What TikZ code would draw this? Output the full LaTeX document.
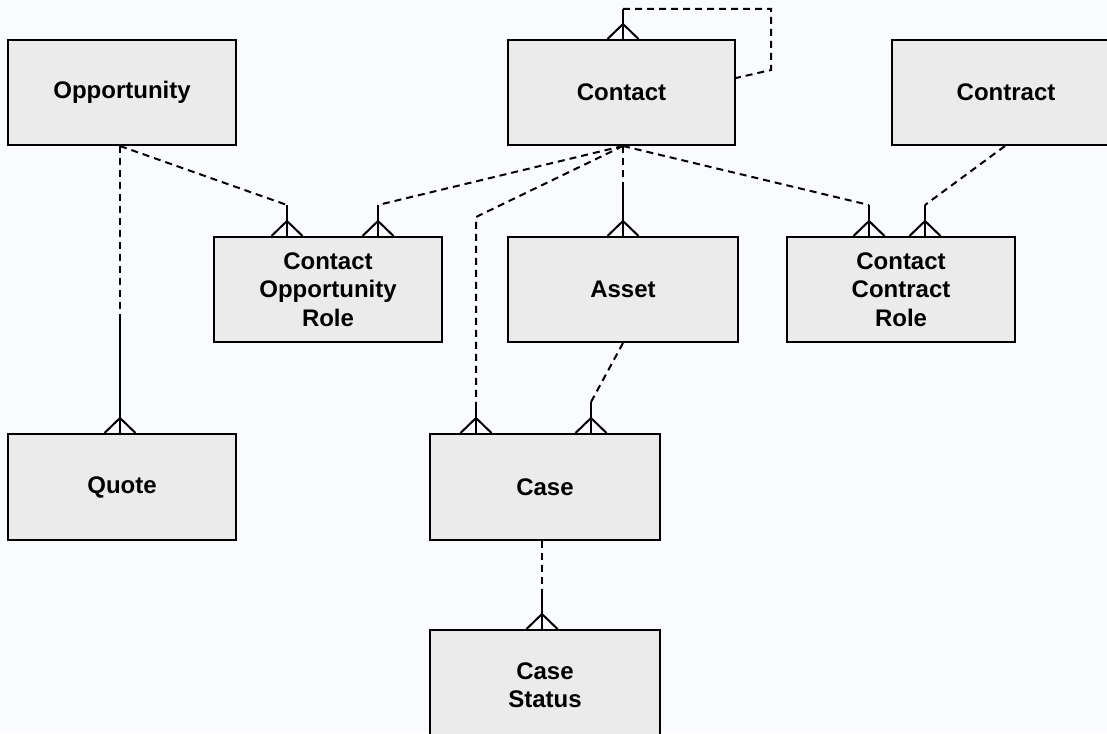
\documentclass[tikz,border=0pt]{standalone}
\usepackage{fontspec}
\setmainfont{Liberation Sans}
\usetikzlibrary{calc}
\definecolor{bgcol}{RGB}{250,251,254}
\definecolor{boxfill}{RGB}{235,235,235}
\tikzset{
  entity/.style={draw=black, line width=2pt, fill=boxfill, minimum width=228pt, minimum height=105pt,
    align=center, font=\fontsize{24}{28.5}\selectfont\bfseries, inner sep=0pt},
  rel/.style={line width=2pt, dash pattern=on 7pt off 5pt},
  stemline/.style={line width=2pt},
  crowfoot/.pic={\draw[line width=2pt] (-15.5,0) -- (0,-15) -- (15.5,0);}
}
\begin{document}
\begin{tikzpicture}[x=1pt,y=-1pt]
\fill[bgcol] (0,0) rectangle (1107,733);
\useasboundingbox (0,0) rectangle (1107,733);

% entities
\node[entity] (opp) at (122,92.5) {Opportunity};
\node[entity, minimum width=227pt] (contact) at (621.5,92.5) {Contact};
\node[entity] (contract) at (1006,92.5) {Contract};
\node[entity] (cor) at (328,289.5) {Contact\\Opportunity\\Role};
\node[entity, minimum width=230pt] (asset) at (623,289.5) {Asset};
\node[entity] (ccr) at (901,289.5) {Contact\\Contract\\Role};
\node[entity, minimum height=106pt] (quote) at (122,487) {Quote};
\node[entity, minimum width=230pt, minimum height=106pt] (case) at (545,487) {Case};
\node[entity, minimum width=230pt, minimum height=110pt] (status) at (545,685) {Case\\Status};

% anchor points on parents
\coordinate (oppB) at ($(opp.south)+(-2,0)$);
\coordinate (conB) at ($(contact.south)+(1.5,0)$);
\coordinate (asB) at (asset.south);
\coordinate (caseB) at ($(case.south)+(-3,0)$);
\coordinate (ctrB) at ($(contract.south)+(-1,0)$);

% Opportunity -> Quote
\coordinate (fq) at ($(quote.north)+(-2,0)$);
\coordinate (sq) at ($(fq)+(0,-116)$);
\draw[rel] (oppB) -- (sq);
\draw[stemline] (sq) -- (fq);
\pic at (fq) {crowfoot};

% Opportunity -> Contact Opportunity Role
\coordinate (fc1) at ($(cor.north)+(-41,0)$);
\coordinate (sc1) at ($(fc1)+(0,-31)$);
\draw[rel] (oppB) -- (sc1);
\draw[stemline] (sc1) -- (fc1);
\pic at (fc1) {crowfoot};

% Contact -> Contact Opportunity Role
\coordinate (fc2) at ($(cor.north)+(50,0)$);
\coordinate (sc2) at ($(fc2)+(0,-31)$);
\draw[rel] (conB) -- (sc2);
\draw[stemline] (sc2) -- (fc2);
\pic at (fc2) {crowfoot};

% Contact -> Case
\coordinate (fk1) at ($(case.north)+(-69,0)$);
\coordinate (sk1) at ($(fk1)+(0,-31)$);
\coordinate (bk1) at ($(fk1)+(0,-216)$);
\draw[rel] (conB) -- (bk1) -- (sk1);
\draw[stemline] (sk1) -- (fk1);
\pic at (fk1) {crowfoot};

% Contact -> Asset
\coordinate (fa) at (asset.north);
\coordinate (sa) at ($(fa)+(0,-47)$);
\draw[rel] (conB) -- (sa);
\draw[stemline] (sa) -- (fa);
\pic at (fa) {crowfoot};

% Contact -> Contact Contract Role
\coordinate (fr1) at ($(ccr.north)+(-32,0)$);
\coordinate (sr1) at ($(fr1)+(0,-31)$);
\draw[rel] (conB) -- (sr1);
\draw[stemline] (sr1) -- (fr1);
\pic at (fr1) {crowfoot};

% Contract -> Contact Contract Role
\coordinate (fr2) at ($(ccr.north)+(24,0)$);
\coordinate (sr2) at ($(fr2)+(0,-31)$);
\draw[rel] (ctrB) -- (sr2);
\draw[stemline] (sr2) -- (fr2);
\pic at (fr2) {crowfoot};

% Asset -> Case
\coordinate (fk2) at ($(case.north)+(46,0)$);
\coordinate (sk2) at ($(fk2)+(0,-31)$);
\draw[rel] (asB) -- (sk2);
\draw[stemline] (sk2) -- (fk2);
\pic at (fk2) {crowfoot};

% Case -> Case Status
\coordinate (fs) at ($(status.north)+(-3,0)$);
\coordinate (ss) at ($(fs)+(0,-33)$);
\draw[rel] (caseB) -- (ss);
\draw[stemline] (ss) -- (fs);
\pic at (fs) {crowfoot};

% Contact self relation
\coordinate (fself) at ($(contact.north)+(1.5,0)$);
\coordinate (sself) at ($(fself)+(0,-30)$);
\coordinate (selfA) at ($(sself)+(148,0)$);
\coordinate (selfB) at ($(selfA)+(0,61)$);
\coordinate (selfE) at ($(contact.east)+(0,-14.5)$);
\draw[rel] (sself) -- (selfA) -- (selfB) -- (selfE);
\draw[stemline] (sself) -- (fself);
\pic at (fself) {crowfoot};
\end{tikzpicture}
\end{document}
